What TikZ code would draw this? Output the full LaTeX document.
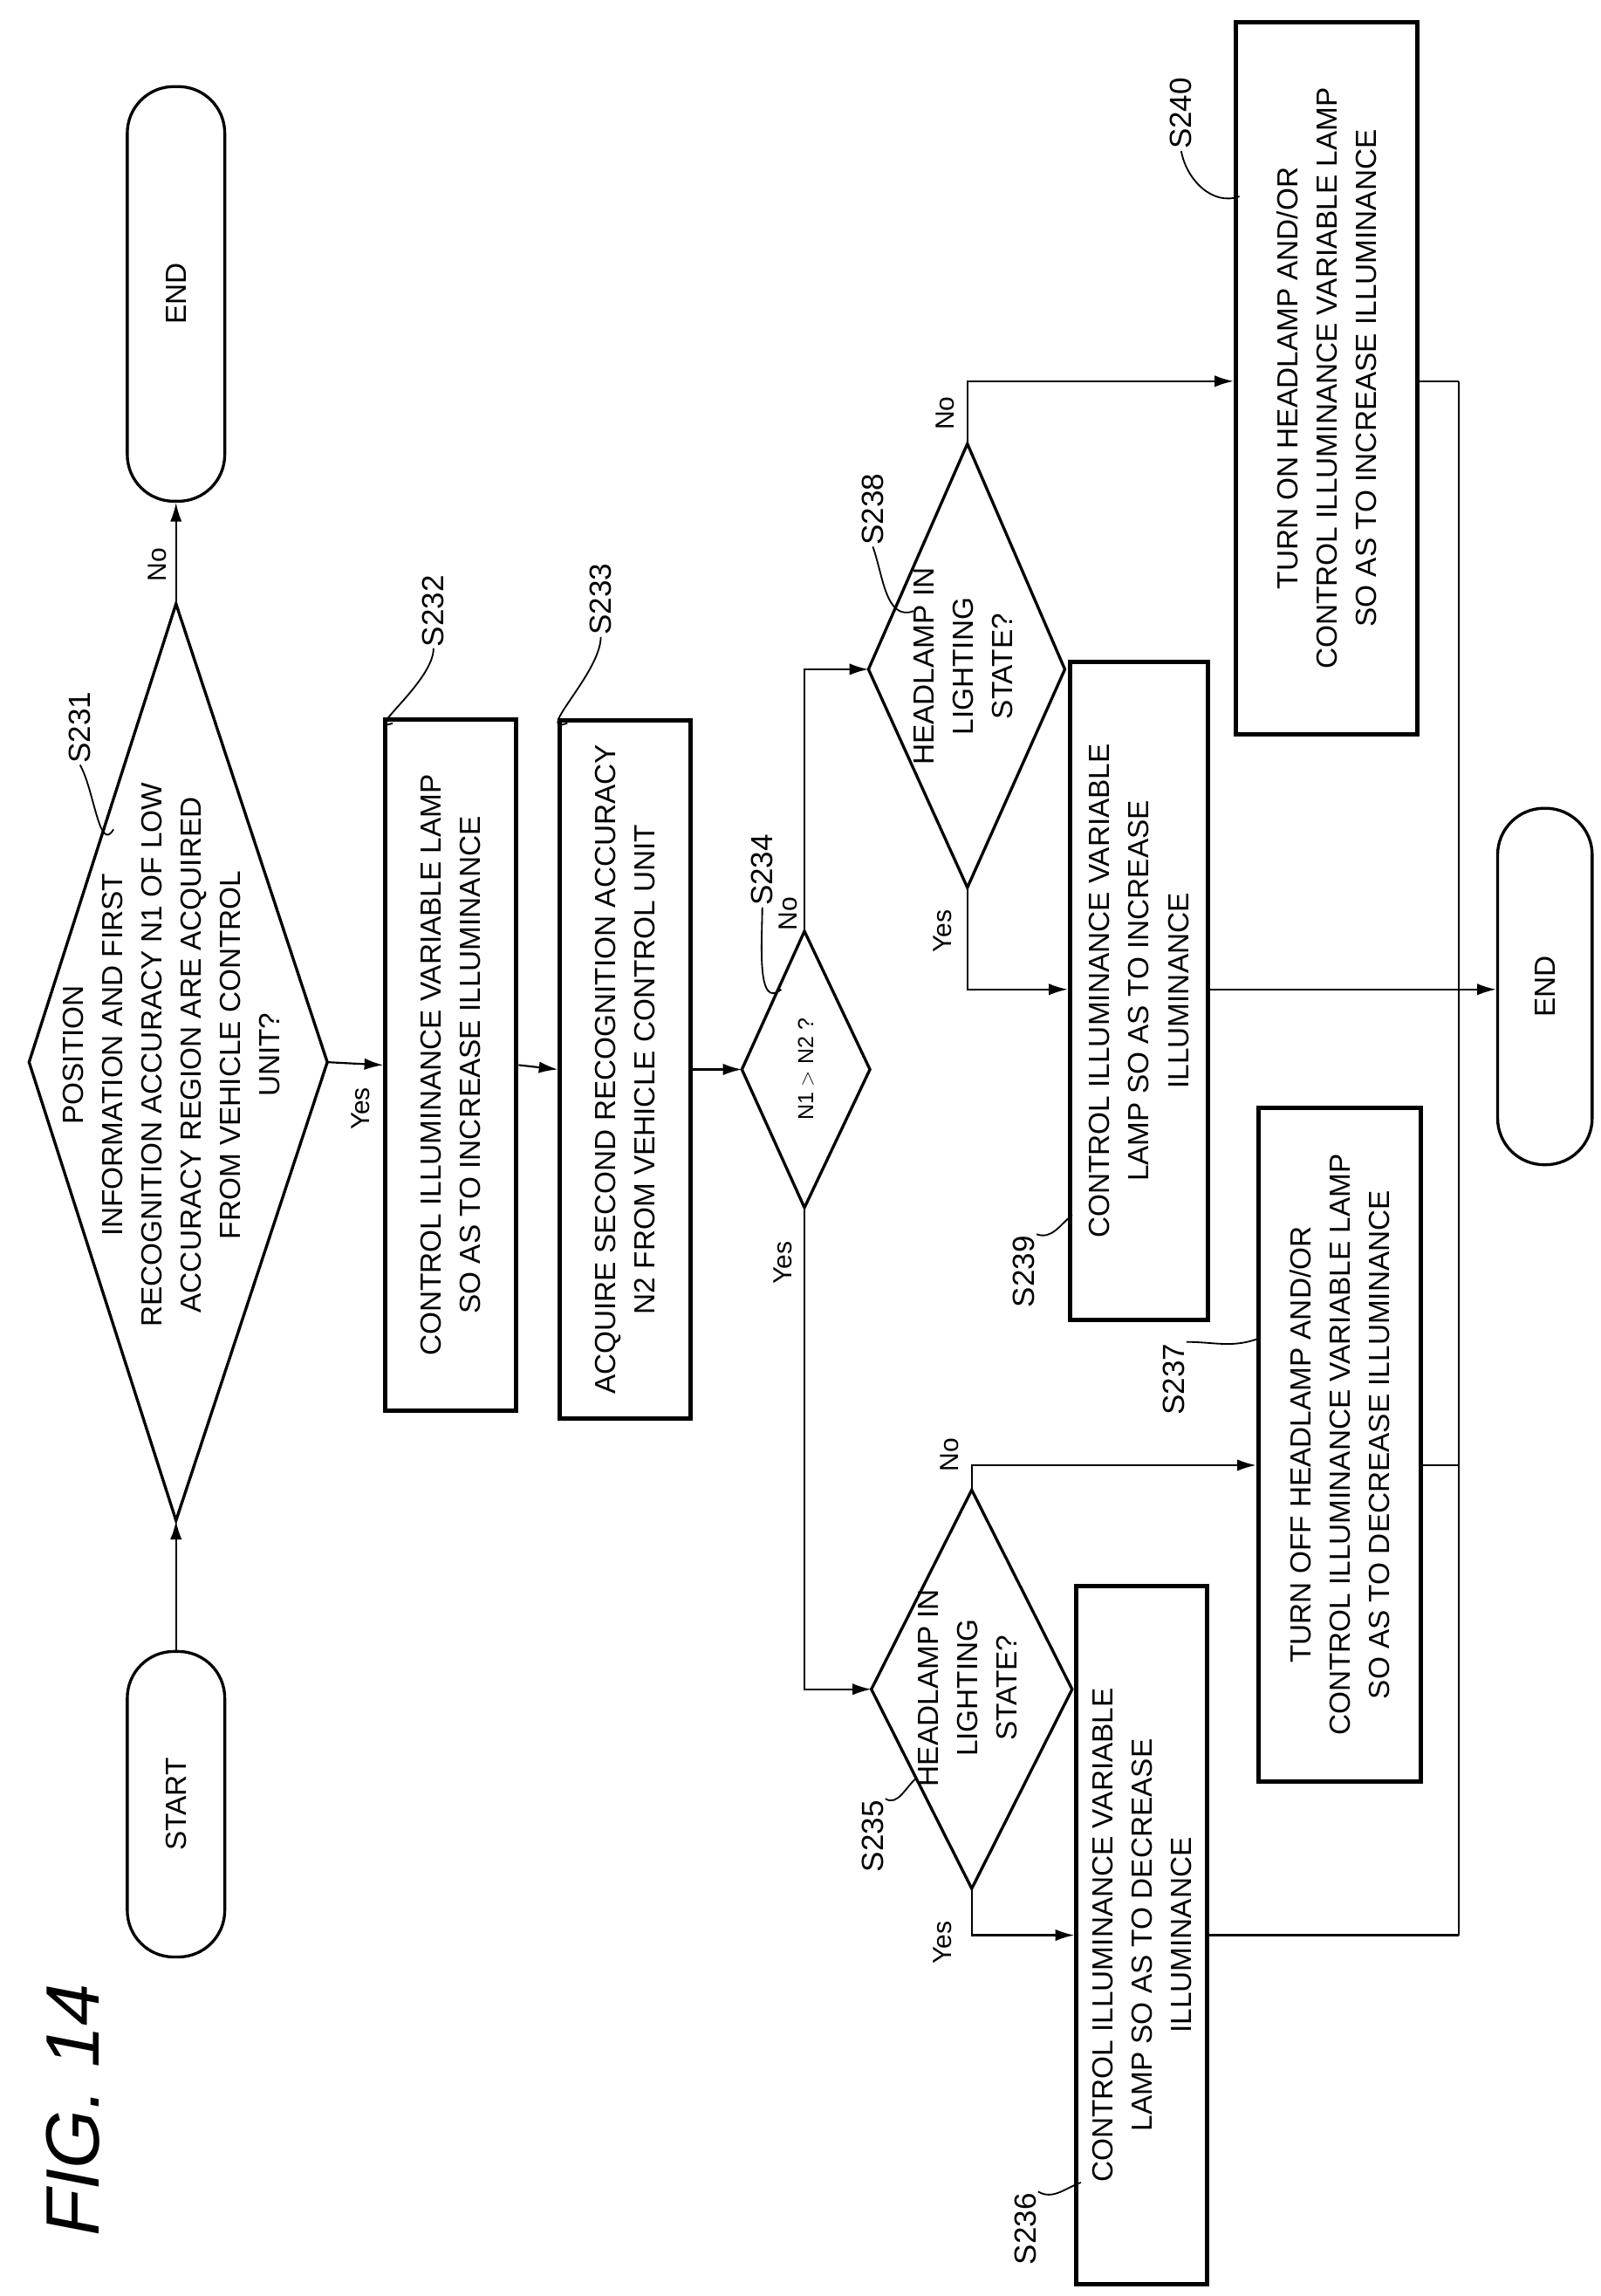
\documentclass[tikz,border=0pt]{standalone}
\usepackage{fontspec}
\setmainfont{Liberation Sans}
\usetikzlibrary{arrows.meta}
\begin{document}
\begin{tikzpicture}[x=1pt,y=-1pt,
 txt/.style={rotate=90,align=center,font=\fontsize{20}{27}\selectfont,inner sep=0pt},
 box/.style={txt,draw,line width=3pt,inner sep=0pt},
 term/.style={txt,draw,line width=2pt,rounded corners=32pt},
 dia/.style={draw,line width=2pt},
 lab/.style={rotate=90,font=\fontsize{21}{24}\selectfont,inner sep=1pt},
 yn/.style={rotate=90,font=\fontsize{18}{20}\selectfont,inner sep=1pt},
 ar/.style={-{Latex[length=13pt,width=8pt]},line width=1.3pt},
 ln/.style={line width=1.3pt},
 lead/.style={line width=1.1pt}]
\useasboundingbox (0,0) rectangle (1100,1578);
\node[rotate=90,font=\fontsize{52}{56}\selectfont\itshape,anchor=center] (fig) at (50,1450) {FIG. 14};
% terminals
\node[term,minimum width=210pt,minimum height=67pt] (start) at (121,1240) {START};
\node[term,minimum width=285pt,minimum height=67pt] (end1) at (121,202) {END};
\node[term,minimum width=245pt,minimum height=65pt] (end2) at (1062,678) {END};
% S231 diamond
\coordinate (d1t) at (121,415); \coordinate (d1b) at (121,1045);
\coordinate (d1l) at (20,730); \coordinate (d1r) at (225,730);
\draw[dia] (d1t)--(d1r)--(d1b)--(d1l)--cycle;
\node[txt] (t231) at (118,725) {POSITION\\INFORMATION AND FIRST\\RECOGNITION ACCURACY N1 OF LOW\\ACCURACY REGION ARE ACQUIRED\\FROM VEHICLE CONTROL\\UNIT?};
% boxes
\node[box,minimum width=475pt,minimum height=90pt] (s232) at (310,732) {CONTROL ILLUMINANCE VARIABLE LAMP\\SO AS TO INCREASE ILLUMINANCE};
\node[box,minimum width=480pt,minimum height=90pt] (s233) at (430,735) {ACQUIRE SECOND RECOGNITION ACCURACY\\N2 FROM VEHICLE CONTROL UNIT};
% S234
\coordinate (d4t) at (553,640); \coordinate (d4b) at (553,830);
\coordinate (d4l) at (510,735); \coordinate (d4r) at (598,735);
\draw[dia] (d4t)--(d4r)--(d4b)--(d4l)--cycle;
\node[txt,font=\fontsize{15}{18}\selectfont] (t234) at (554,735) {N1 {\(>\)} N2 ?};
% S235
\coordinate (d5t) at (668,1024); \coordinate (d5b) at (668,1298);
\coordinate (d5l) at (599,1161); \coordinate (d5r) at (737,1161);
\draw[dia] (d5t)--(d5r)--(d5b)--(d5l)--cycle;
\node[txt] (t235) at (665,1160) {HEADLAMP IN\\LIGHTING\\STATE?};
% S238
\coordinate (d8t) at (665,305); \coordinate (d8b) at (665,610);
\coordinate (d8l) at (597,460); \coordinate (d8r) at (732,460);
\draw[dia] (d8t)--(d8r)--(d8b)--(d8l)--cycle;
\node[txt] (t238) at (662,458) {HEADLAMP IN\\LIGHTING\\STATE?};
\node[box,minimum width=480pt,minimum height=90pt] (s236) at (785,1330) {CONTROL ILLUMINANCE VARIABLE\\LAMP SO AS TO DECREASE\\ILLUMINANCE};
\node[box,minimum width=463pt,minimum height=112pt] (s237) at (921,993) {TURN OFF HEADLAMP AND/OR\\CONTROL ILLUMINANCE VARIABLE LAMP\\SO AS TO DECREASE ILLUMINANCE};
\node[box,minimum width=452pt,minimum height=95pt] (s239) at (783,681) {CONTROL ILLUMINANCE VARIABLE\\LAMP SO AS TO INCREASE\\ILLUMINANCE};
\node[box,minimum width=490pt,minimum height=125pt] (s240) at (912,260) {TURN ON HEADLAMP AND/OR\\CONTROL ILLUMINANCE VARIABLE LAMP\\SO AS TO INCREASE ILLUMINANCE};
% connectors
\draw[ar] (start.east) -- (d1b);
\draw[ar] (d1t) -- (end1.west);
\draw[ar] (d1r) -- (s232.north);
\draw[ar] (s232.south) -- (s233.north);
\draw[ar] (s233.south) -- (d4l);
\draw[ar] (d4b) -- (553,1161) -- (d5l);
\draw[ar] (d4t) -- (553,460) -- (d8l);
\draw[ar] (d5t) -- (668,1007) -- (s237.north |- 0,1007);
\draw[ar] (d5b) -- (668,1330) -- (s236.north);
\draw[ar] (d8t) -- (665,262) -- (s240.north |- 0,262);
\draw[ar] (d8b) -- (665,680) -- (s239.north |- 0,680);
\coordinate (m1) at (1003,1330); \coordinate (m2) at (1003,262);
\draw[ln] (s236.south) -- (m1);
\draw[ln] (s237.south |- 0,1007) -- (1003,1007);
\draw[ln] (s240.south |- 0,262) -- (m2);
\draw[ln] (m2) -- (m1);
\draw[ar] (s239.south |- 0,680) -- (end2.north |- 0,680);
% Yes/No
\node[yn] (y1) at (248,762) {Yes};
\node[yn] (n1) at (108,388) {No};
\node[yn] (y4) at (538,868) {Yes};
\node[yn] (n4) at (542,628) {No};
\node[yn] (y5) at (648,1335) {Yes};
\node[yn] (n5) at (653,1000) {No};
\node[yn] (y8) at (648,640) {Yes};
\node[yn] (n8) at (650,284) {No};
% step labels
\node[lab] (l231) at (55,500) {S231};
\draw[lead] (l231.west) to[out=-60,in=240] (78,570);
\node[lab] (l232) at (298,420) {S232};
\draw[lead] (l232.west) to[out=-90,in=200] (270,497);
\node[lab] (l233) at (413,412) {S233};
\draw[lead] (l233.west) to[out=-90,in=200] (390,497);
\node[lab] (l234) at (524,598) {S234};
\draw[lead] (l234.west) to[out=-90,in=220] (537,680);
\node[lab] (l235) at (600,1262) {S235};
\draw[lead] (l235.south east) to[out=-30,in=220] (630,1222);
\node[lab] (l236) at (705,1532) {S236};
\draw[lead] (l236.south east) to[out=-30,in=200] (743,1500);
\node[lab] (l237) at (807,948) {S237};
\draw[lead] (l237.south east) to[out=0,in=200] (865,920);
\node[lab] (l238) at (600,350) {S238};
\draw[lead] (l238.west) to[out=-70,in=200] (628,420);
\node[lab] (l239) at (704,874) {S239};
\draw[lead] (l239.south east) to[out=-20,in=220] (737,835);
\node[lab] (l240) at (812,78) {S240};
\draw[lead] (l240.west) to[out=-80,in=200] (852,135);
\end{tikzpicture}
\end{document}
